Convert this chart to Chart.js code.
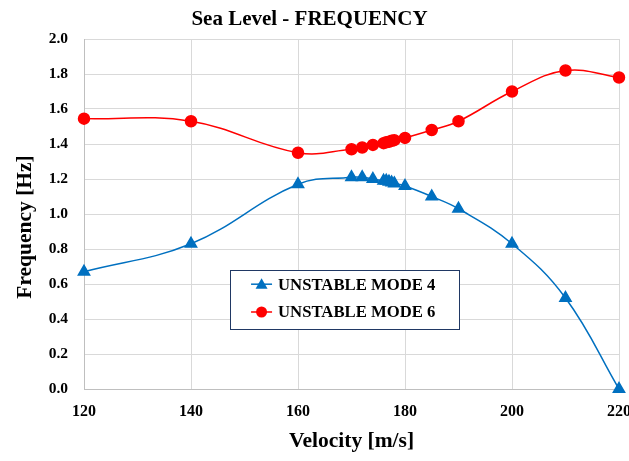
<!DOCTYPE html>
<html>
<head>
<meta charset="utf-8">
<script src="https://cdn.jsdelivr.net/npm/chart.js@4/dist/chart.umd.min.js"></script>
<style>
html,body{margin:0;padding:0;background:#fff;}
#wrap{width:629px;height:461px;position:relative;}
</style>
</head>
<body>
<div id="wrap"><canvas id="c" width="629" height="461"></canvas></div>
<script>
const velocities = [120, 140, 160, 170, 172, 174, 176, 176.5, 177, 177.5, 178, 180, 185, 190, 200, 210, 220];
const mode4 = [0.67, 0.83, 1.17, 1.21, 1.21, 1.20, 1.19, 1.19, 1.185, 1.18, 1.175, 1.16, 1.10, 1.03, 0.83, 0.52, 0.00];
const mode6 = [1.545, 1.53, 1.35, 1.37, 1.38, 1.395, 1.405, 1.41, 1.413, 1.418, 1.422, 1.435, 1.48, 1.53, 1.70, 1.82, 1.78];
const seriesLabels = ['UNSTABLE MODE 4', 'UNSTABLE MODE 6'];
const xTicks = [120, 140, 160, 180, 200, 220];
const yTicks = [0, 0.2, 0.4, 0.6, 0.8, 1.0, 1.2, 1.4, 1.6, 1.8, 2.0];
const yTitle = 'Frequency [Hz]';

const FONT = "'Liberation Serif', 'Times New Roman', serif";
const BLUE = '#0070C0';
const RED = '#FF0000';

const toPts = (ys) => velocities.map((v, i) => ({x: v, y: ys[i]}));

const yTitlePlugin = {
  id: 'yTitlePlugin',
  afterDraw(chart) {
    const {ctx, chartArea: a} = chart;
    const h = a.bottom - a.top;
    ctx.save();
    ctx.translate(25, a.top + h / 2 + 13);
    ctx.rotate(-Math.PI / 2);
    ctx.fillStyle = '#000';
    ctx.font = 'bold 21.5px ' + FONT;
    ctx.textAlign = 'center';
    ctx.textBaseline = 'middle';
    ctx.fillText(yTitle, 0, 0);
    ctx.restore();
  }
};

const legendBox = {
  id: 'legendBox',
  afterDraw(chart) {
    const {ctx, chartArea: a} = chart;
    const w = a.right - a.left, h = a.bottom - a.top;
    const x0 = a.left + w * 0.273, x1 = a.left + w * 0.701;
    const y0 = a.top + h * 0.66, y1 = a.top + h * 0.829;
    ctx.save();
    ctx.fillStyle = '#fff';
    ctx.fillRect(x0, y0, x1 - x0, y1 - y0);
    ctx.strokeStyle = '#203864';
    ctx.lineWidth = 1;
    ctx.strokeRect(Math.round(x0) + 0.5, Math.round(y0) + 0.5, Math.round(x1 - x0), Math.round(y1 - y0));
    const rowH = (y1 - y0);
    const rows = [y0 + rowH * 0.24, y0 + rowH * 0.71];
    chart.data.datasets.forEach((ds, i) => {
      const yy = rows[i];
      const lx0 = x0 + 21, lx1 = x0 + 42, mx = (lx0 + lx1) / 2;
      ctx.strokeStyle = ds.borderColor;
      ctx.lineWidth = 1.5;
      ctx.beginPath(); ctx.moveTo(lx0, yy); ctx.lineTo(lx1, yy); ctx.stroke();
      ctx.fillStyle = ds.backgroundColor;
      ctx.beginPath();
      if (ds.pointStyle === 'triangle') {
        const r = 6;
        ctx.moveTo(mx, yy - r); ctx.lineTo(mx + r, yy + r * 0.75); ctx.lineTo(mx - r, yy + r * 0.75); ctx.closePath();
      } else {
        ctx.arc(mx, yy, 5.5, 0, Math.PI * 2);
      }
      ctx.fill();
      ctx.fillStyle = '#000';
      ctx.font = 'bold 16.7px ' + FONT;
      ctx.textBaseline = 'middle';
      ctx.textAlign = 'left';
      ctx.fillText(ds.label, x0 + 48, yy + 1);
    });
    ctx.restore();
  }
};

new Chart(document.getElementById('c'), {
  type: 'line',
  data: {
    datasets: [
      {label: seriesLabels[0], data: toPts(mode4), borderColor: BLUE, backgroundColor: BLUE,
       pointStyle: 'triangle', pointRadius: 6.5, pointHoverRadius: 6.5, borderWidth: 1.5, tension: 0.4, clip: false},
      {label: seriesLabels[1], data: toPts(mode6), borderColor: RED, backgroundColor: RED,
       pointStyle: 'circle', pointRadius: 5.5, pointHoverRadius: 5.5, borderWidth: 1.5, tension: 0.4, clip: false}
    ]
  },
  options: {
    responsive: false,
    animation: false,
    layout: {padding: {left: 0, right: 10, top: 0, bottom: 0}},
    plugins: {
      legend: {display: false},
      tooltip: {enabled: false},
      title: {display: true, text: 'Sea Level - FREQUENCY', color: '#000',
              font: {family: FONT, size: 21, weight: 'bold'}, padding: {top: 7.4, bottom: 6.4}}
    },
    scales: {
      x: {
        type: 'linear', min: 120, max: 220,
        afterBuildTicks: (s) => { s.ticks = xTicks.map(v => ({value: v})); },
        afterFit: (s) => { s.paddingRight = 0; s.paddingLeft = 0; s.height = 72; },
        grid: {color: '#D9D9D9', drawTicks: false},
        border: {color: '#BFBFBF'},
        ticks: {color: '#000', padding: 13, font: {family: FONT, size: 16, weight: 'bold'}, maxRotation: 0},
        title: {display: true, text: 'Velocity [m/s]', color: '#000', padding: {top: 0, bottom: 6.4},
                font: {family: FONT, size: 21.5, weight: 'bold'}}
      },
      y: {
        min: 0, max: 2,
        afterBuildTicks: (s) => { s.ticks = yTicks.map(v => ({value: v})); },
        afterFit: (s) => { s.width = 84; },
        grid: {color: '#D9D9D9', drawTicks: false},
        border: {color: '#BFBFBF'},
        ticks: {color: '#000', padding: 16, font: {family: FONT, size: 15.5, weight: 'bold'},
                callback: (v) => Number(v).toFixed(1)},
        title: {display: false}
      }
    }
  },
  plugins: [legendBox, yTitlePlugin]
});
</script>
</body>
</html>
